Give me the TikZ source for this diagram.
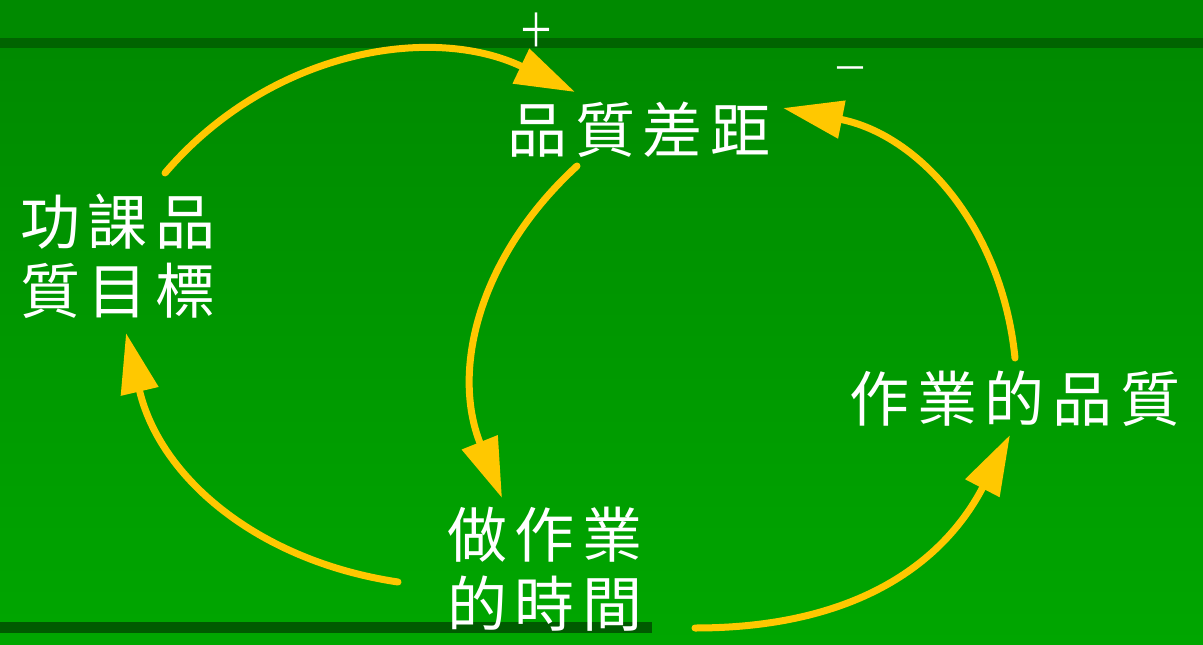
\documentclass[tikz,border=0pt]{standalone}
\usepackage{fontspec}
\usepackage{xcolor}
\usepackage{graphicx}
\usetikzlibrary{arrows.meta}
\newfontfamily\cjk[LetterSpace=13]{Noto Sans CJK TC}
\newfontfamily\signfont{Noto Sans CJK TC}
\definecolor{boardtop}{HTML}{008A00}
\definecolor{boardband}{HTML}{006400}
\definecolor{boardlow}{HTML}{00A600}
\definecolor{chalkline}{HTML}{005A00}
\definecolor{arrowgold}{HTML}{FFC800}

\begin{document}
\begin{tikzpicture}[x=1pt,y=-1pt,
    chalk/.style={text=white, inner sep=0pt, align=center, font=\cjk\fontsize{60}{69}\selectfont},
    sign/.style={text=white, inner sep=0pt, font=\signfont\fontsize{36}{36}\selectfont},
    cyclearrow/.style={draw=arrowgold, line width=7pt, line cap=round, -{Triangle[length=60pt,width=37pt]}}]
            \useasboundingbox (0,0) rectangle (1203,645);
            \fill[boardtop] (0,0) rectangle (1203,48);
            \shade[top color=boardtop, bottom color=boardlow] (0,48) rectangle (1203,645);
            \fill[boardband] (0,38) rectangle (1203,48);
            \fill[chalkline] (0,622) rectangle (652,633);
            \node[chalk](goal) at (118,256){功課品\\質目標};
            \node[chalk](gap) at (639,130){品質差距};
            \node[chalk](time) at (545,569){做作業\\的時間};
            \node[chalk](work) at (1015,399){作業的品質};
            \node[sign](plus) at (536,30){\scalebox{1}[1.3]{＋}};
            \node[sign](minus) at (850,74){－};
            \draw[cyclearrow] ([shift={(47,-83)}]goal.center) .. controls +(104,-122) and +(-144,-69) .. ([shift={(-64,-38)}]gap.center);
            \draw[cyclearrow] ([shift={(-62,36)}]gap.center) .. controls +(-96,88) and +(-52,-130) .. ([shift={(-43,-71)}]time.center);
            \draw[cyclearrow] ([shift={(-147,13)}]time.center) .. controls +(-140,-21) and +(34,145) .. ([shift={(8,77)}]goal.center);
            \draw[cyclearrow] ([shift={(150,59)}]time.center) .. controls +(165,0) and +(-65,125) .. ([shift={(-5,36)}]work.center);
            \draw[cyclearrow] ([shift={(0,-41)}]work.center) .. controls +(-13,-130) and +(137,27) .. ([shift={(144,-22)}]gap.center);
        \end{tikzpicture}
\end{document}
